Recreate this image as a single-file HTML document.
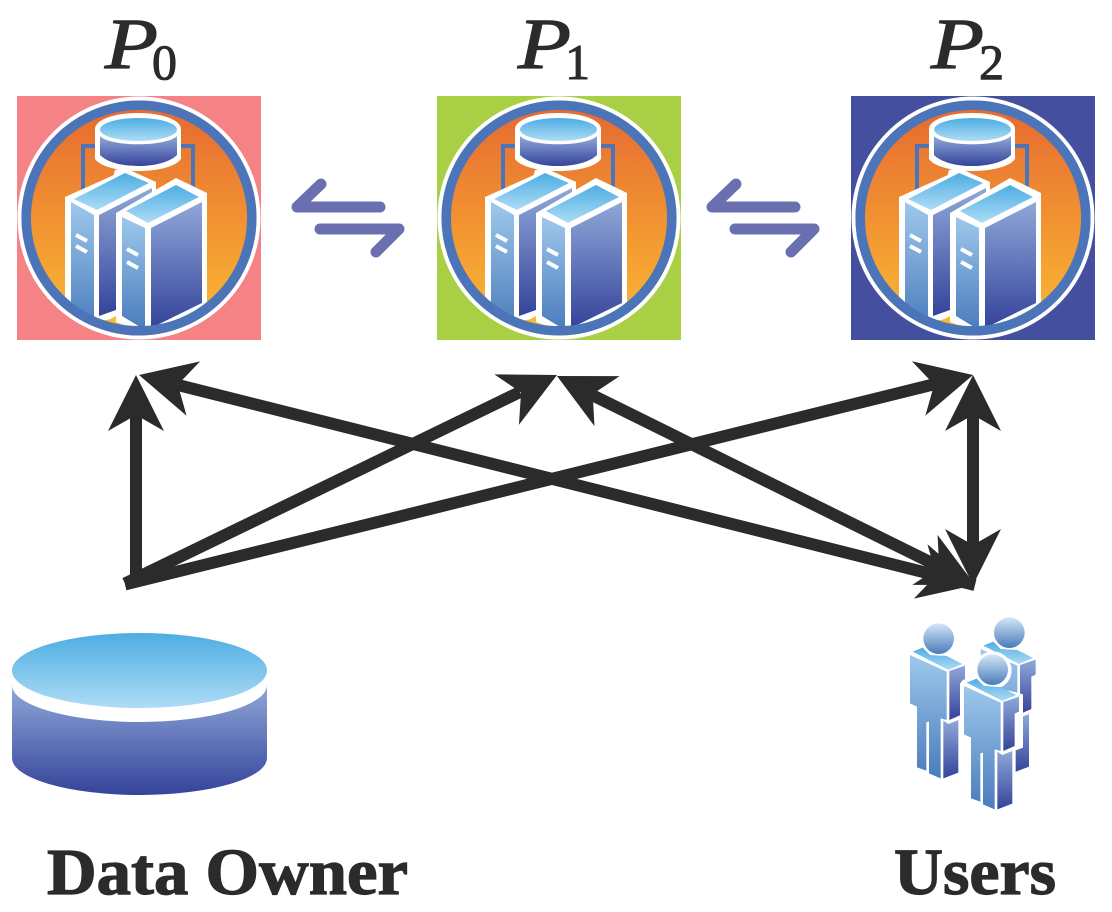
<!DOCTYPE html>
<html>
<head>
<meta charset="utf-8">
<style>
html,body{margin:0;padding:0;background:#fff}
svg{display:block}
</style>
</head>
<body>
<svg xmlns="http://www.w3.org/2000/svg" width="1112" height="912" viewBox="0 0 1112 912">
<defs>
<linearGradient id="or" x1="0" y1="0" x2="0" y2="1"><stop offset="0" stop-color="#e66a30"/><stop offset="1" stop-color="#fbb934"/></linearGradient>
<linearGradient id="top" x1="0" y1="0" x2="0" y2="1"><stop offset="0" stop-color="#4dade2"/><stop offset="1" stop-color="#aedcf6"/></linearGradient>
<linearGradient id="dark" x1="0" y1="0" x2="0" y2="1"><stop offset="0" stop-color="#8fa8d9"/><stop offset="1" stop-color="#35439a"/></linearGradient>
<linearGradient id="lite" x1="0" y1="0" x2="0" y2="1"><stop offset="0" stop-color="#9ec8ec"/><stop offset="1" stop-color="#4a7cbc"/></linearGradient>
<linearGradient id="head" x1="0" y1="0" x2="0" y2="1"><stop offset="0" stop-color="#d4e7f7"/><stop offset="1" stop-color="#4a7cbc"/></linearGradient>
<clipPath id="cc"><circle cx="139" cy="218" r="110"/></clipPath>
<clipPath id="sq"><rect x="17" y="96" width="244" height="244"/></clipPath>

<g id="node">
  <g clip-path="url(#sq)">
    <circle cx="139" cy="218" r="119.500" fill="none" stroke="#fff" stroke-width="4"/>
  </g>
  <g clip-path="url(#cc)">
    <circle cx="139" cy="218" r="110" fill="url(#or)"/>
    <path d="M83 190V146H193V190" fill="none" stroke="#4c75b9" stroke-width="4"/>
    <polygon points="115,170 125,168 156,182 156,192 100,225" fill="#fff"/>
    <path d="M95 129C95 120 114 113 138 113C162 113 181 120 181 129V159C176 166 160 171 138 171C116 171 100 166 95 159Z" fill="#fff"/>
    <path d="M100 136C110 147 166 147 177 136V155C170 162 155 166 138 166C121 166 107 162 100 155Z" fill="url(#dark)"/>
    <ellipse cx="138.500" cy="129.500" rx="38.500" ry="11.500" fill="url(#top)"/>

    <polygon points="65,197 125,170 156,182 156,280 118,318 94,322 65,310" fill="#fff"/>
    <polygon points="74,199 125,173 149,183 97,210" fill="url(#top)"/>
    <polygon points="71,202 94,215 94,330 71,310" fill="url(#lite)"/>
    <polygon points="99,215 152,188 152,293 116,310 99,316" fill="url(#dark)"/>
    <path d="M76 235L87 241M76 246L87 252" stroke="#fff" stroke-width="4"/>

    <polygon points="105,322 116,316 128,325" fill="#fbb934"/>

    <polygon points="116,213 176,178 207,193 207,305 150,335 116,322" fill="#fff"/>
    <polygon points="126,211 176,185 199,197 148,223" fill="url(#top)"/>
    <polygon points="122,217 145,228 145,330 122,316" fill="url(#lite)"/>
    <polygon points="151,228 202,202 202,303 151,328" fill="url(#dark)"/>
    <path d="M127 249L138 255M127 262L138 268" stroke="#fff" stroke-width="4"/>
  </g>
  <circle cx="139" cy="218" r="112.800" fill="none" stroke="#4c75b9" stroke-width="9.500"/>
</g>

<g id="harp" fill="none" stroke="#6a6fb0" stroke-width="11" stroke-linecap="round" stroke-linejoin="round">
  <path d="M380 207H297L321 184"/>
  <path d="M320 229H399L376 252"/>
</g>

<polygon id="ah" points="0,0 -56,-28 -40,0 -56,28" fill="#2b2b2b"/>

<g id="person">
  <polygon points="98,365 128,353 150,375 200,378 247,402 205,420" fill="url(#top)"/>
  <polygon points="90,375 200,425 200,570 182,565 182,745 147,730 147,575 139,577 139,722 111,712 111,530 90,520" fill="url(#lite)"/>
  <polygon points="208,423 255,407 255,452 242,458 242,555 208,570" fill="url(#dark)"/>
  <polygon points="190,572 205,582 235,570 235,728 190,745" fill="url(#dark)"/>
  <circle cx="176" cy="326" r="46" fill="url(#head)"/>
</g>
</defs>

<rect width="1112" height="912" fill="#fff"/>

<rect x="17" y="96" width="244" height="244" fill="#f58386"/>
<rect x="437" y="96" width="244" height="244" fill="#a9d044"/>
<rect x="851" y="96" width="244" height="244" fill="#454f9f"/>

<use href="#node"/>
<use href="#node" transform="translate(420,0)"/>
<use href="#node" transform="translate(834,0)"/>

<use href="#harp"/>
<use href="#harp" transform="translate(415,0)"/>

<g fill="#2b2b2b" stroke="#2b2b2b" font-family="'Liberation Serif',serif">
  <g stroke-width="1.200" font-size="72" font-style="italic">
    <text x="105" y="68" textLength="53" lengthAdjust="spacingAndGlyphs">P</text>
    <text x="518" y="68" textLength="53" lengthAdjust="spacingAndGlyphs">P</text>
    <text x="931" y="68" textLength="53" lengthAdjust="spacingAndGlyphs">P</text>
  </g>
  <g stroke-width="1" font-size="50">
    <text x="152" y="79">0</text>
    <text x="565" y="79">1</text>
    <text x="979" y="79">2</text>
  </g>
  <g stroke-width="1.200" font-size="66" font-weight="bold">
    <text x="47" y="894" textLength="361" lengthAdjust="spacingAndGlyphs">Data Owner</text>
    <text x="894" y="894" textLength="162" lengthAdjust="spacingAndGlyphs">Users</text>
  </g>
</g>

<g stroke="#2b2b2b" stroke-width="12" fill="none">
  <path d="M136 584V412"/>
  <path d="M125 583.500L520 392"/>
  <path d="M125 584.500L935 384"/>
  <path d="M975 585L178 385"/>
  <path d="M940 567L590 394"/>
  <path d="M973 545V415"/>
</g>

<use href="#ah" transform="translate(136,375) rotate(-90)"/>
<use href="#ah" transform="translate(557,375) rotate(-26)"/>
<use href="#ah" transform="translate(973,375) rotate(-13.900)"/>
<use href="#ah" transform="translate(139,375) rotate(-166)"/>
<use href="#ah" transform="translate(557,376) rotate(-153.300)"/>
<use href="#ah" transform="translate(973,375) rotate(-90)"/>
<use href="#ah" transform="translate(975,585) rotate(14)"/>
<use href="#ah" transform="translate(975,585) rotate(26.700)"/>
<use href="#ah" transform="translate(973,585) rotate(90)"/>

<path d="M12 685A127.500 37 0 0 0 267 685V758A127.500 37 0 0 1 12 758Z" fill="url(#dark)"/>
<ellipse cx="139.500" cy="670.500" rx="127.500" ry="37.500" fill="url(#top)"/>

<g transform="translate(880,530) scale(0.33333)">
  <use href="#person" transform="translate(212,-18)"/>
  <use href="#person"/>
  <g transform="translate(162,93)">
    <polygon points="88,355 250,395 267,400 267,560 245,568 245,735 186,756 102,722 102,535 78,525 78,368" fill="#fff"/>
    <circle cx="176" cy="328" r="57" fill="#fff"/>
    <use href="#person"/>
  </g>
</g>
</svg>
</body>
</html>
